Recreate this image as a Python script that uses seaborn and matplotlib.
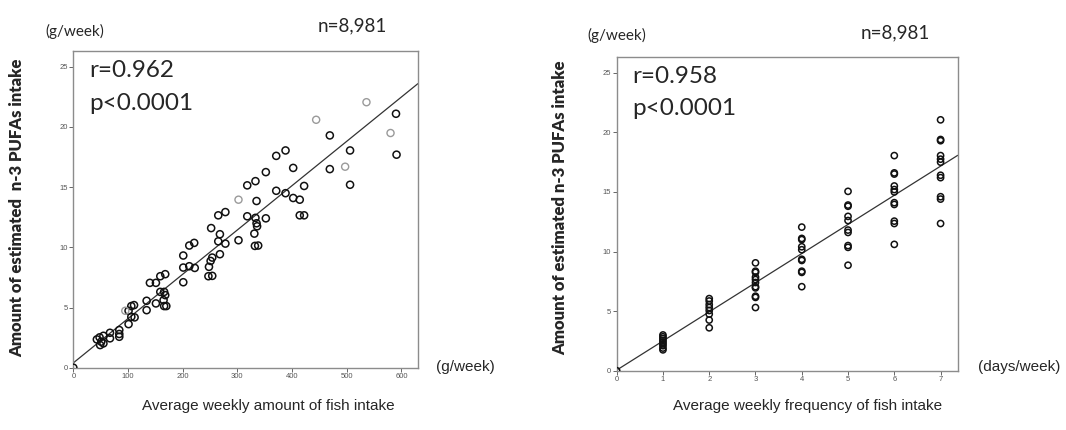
import matplotlib
matplotlib.use("Agg")
import matplotlib.pyplot as plt
import seaborn as sns
import pandas as pd

# ---------------- data ----------------
# Left panel: weekly amount of fish (g/week) vs n-3 PUFAs (g/week)
amount_x = [590, 469, 591, 506, 388, 371, 402, 469, 506, 352, 333, 318, 371, 388, 402, 414,
            422, 335, 265, 278, 318, 333, 352, 414, 422, 252, 335, 336, 331, 268, 265, 302,
            278, 268, 332, 338, 221, 212, 201, 201, 212, 222, 254, 251, 248, 247, 254, 201,
            140, 151, 159, 168, 159, 166, 168, 165, 166, 170, 134, 151, 134, 111, 106, 101,
            106, 112, 101, 84, 84, 84, 67, 67, 55, 48, 43, 51, 49, 55, 0]
amount_y = [21.1, 19.3, 17.7, 18.05, 18.05, 17.6, 16.6, 16.5, 15.2, 16.25, 15.5, 15.15, 14.7,
            14.5, 14.1, 13.96, 15.1, 13.85, 12.66, 12.93, 12.58, 12.45, 12.41, 12.66, 12.66,
            11.6, 12.0, 11.75, 11.14, 11.09, 10.5, 10.59, 10.31, 9.43, 10.12, 10.15, 10.37,
            10.15, 9.32, 8.32, 8.43, 8.29, 9.15, 8.87, 8.38, 7.6, 7.63, 7.1, 7.05, 7.05, 7.6,
            7.77, 6.3, 6.3, 6.03, 5.61, 5.12, 5.12, 5.56, 5.34, 4.78, 5.2, 5.12, 4.73, 4.23,
            4.18, 3.62, 3.13, 2.8, 2.57, 2.9, 2.44, 2.65, 2.52, 2.35, 2.16, 1.88, 2.02, 0.0]
amount_gray_x = [536, 444, 580, 497, 302, 95]
amount_gray_y = [22.06, 20.6, 19.5, 16.7, 13.96, 4.73]
amount_fit_x = [0, 630]
amount_fit_y = [0.4, 23.6]

# Right panel: weekly frequency of fish intake (days/week) vs n-3 PUFAs (g/week)
freq_x = ([0] + [1] * 9 + [2] * 8 + [3] * 11 + [4] * 10 + [5] * 10 + [6] * 11 + [7] * 11)
freq_y = [0.0,
          3.0, 2.85, 2.7, 2.55, 2.4, 2.25, 2.1, 1.9, 1.75,
          6.05, 5.85, 5.55, 5.3, 5.05, 4.75, 4.25, 3.6,
          9.05, 8.35, 8.25, 7.85, 7.65, 7.4, 7.05, 6.95, 6.25, 6.15, 5.3,
          12.05, 11.1, 11.0, 10.4, 10.15, 9.35, 9.25, 8.35, 8.25, 7.05,
          15.05, 13.9, 13.8, 12.95, 12.6, 11.8, 11.6, 10.5, 10.35, 8.85,
          18.05, 16.6, 16.5, 15.5, 15.2, 15.0, 14.1, 13.95, 12.55, 12.35, 10.6,
          21.05, 19.4, 19.3, 18.05, 17.75, 17.5, 16.4, 16.2, 14.6, 14.4, 12.35]
freq_fit_x = [0, 7.37]
freq_fit_y = [0.05, 18.07]

x_ticks_amount = [0, 100, 200, 300, 400, 500, 600]
x_ticks_freq = [0, 1, 2, 3, 4, 5, 6, 7]
y_ticks = [0, 5, 10, 15, 20, 25]

# ---------------- figure ----------------
sns.set_style("white")
plt.rcParams['font.family'] = ['Lato', 'DejaVu Sans']

fig = plt.figure(figsize=(10.66, 4.30), dpi=100)
axL = fig.add_axes([0.0688, 0.1449, 0.3232, 0.7361])
axR = fig.add_axes([0.5785, 0.1379, 0.3199, 0.7289])

NARROW = ['Liberation Sans Narrow', 'Liberation Sans', 'DejaVu Sans']

def style_axes(ax, xlim, xticks):
    ax.set_xlim(*xlim)
    ax.set_ylim(0, 26.3)
    ax.set_xticks(xticks)
    ax.set_yticks(y_ticks)
    ax.set_xticklabels([str(t) for t in xticks], family=NARROW, fontsize=5.5, color='#555555')
    ax.set_yticklabels([str(t) for t in y_ticks], family=NARROW, fontsize=5.5, color='#555555')
    ax.tick_params(axis='both', direction='out', length=3, width=0.7, color='#666666', pad=1,
                   bottom=True, left=True)
    for sp in ax.spines.values():
        sp.set_visible(True)
        sp.set_color('#8c8c8c')
        sp.set_linewidth(1.0)
    ax.set_xlabel('')
    ax.set_ylabel('')

# Left panel
dfL = pd.DataFrame({'x': amount_x, 'y': amount_y})
dfLg = pd.DataFrame({'x': amount_gray_x, 'y': amount_gray_y})
sns.lineplot(x=amount_fit_x, y=amount_fit_y, ax=axL, color='#333333', linewidth=0.9)
sns.scatterplot(data=dfL, x='x', y='y', ax=axL, marker='o', s=26, facecolors='none',
                edgecolor='#111111', linewidth=1.1, zorder=3)
sns.scatterplot(data=dfLg, x='x', y='y', ax=axL, marker='o', s=26, facecolors='none',
                edgecolor='#9a9a9a', linewidth=1.0, zorder=3)
style_axes(axL, (0, 630), x_ticks_amount)

# Right panel
dfR = pd.DataFrame({'x': freq_x, 'y': freq_y})
sns.lineplot(x=freq_fit_x, y=freq_fit_y, ax=axR, color='#333333', linewidth=0.9)
sns.scatterplot(data=dfR, x='x', y='y', ax=axR, marker='o', s=20, facecolors='none',
                edgecolor='#111111', linewidth=1.1, zorder=3)
style_axes(axR, (0, 7.37), x_ticks_freq)

# annotations inside axes
for ax, r in ((axL, 'r=0.962'), (axR, 'r=0.958')):
    ax.text(0.045, 0.94, r, transform=ax.transAxes, fontsize=17.5, va='center', ha='left')
    ax.text(0.045, 0.835, 'p<0.0001', transform=ax.transAxes, fontsize=17.5, va='center', ha='left')

# texts around axes
fig.text(75 / 1066, 1 - 31 / 430, '(g/week)', fontsize=11, ha='center', va='center')
fig.text(352 / 1066, 1 - 26 / 430, 'n=8,981', fontsize=13.5, ha='center', va='center')
fig.text(617 / 1066, 1 - 35 / 430, '(g/week)', fontsize=11, ha='center', va='center')
fig.text(895 / 1066, 1 - 33 / 430, 'n=8,981', fontsize=13.5, ha='center', va='center')

fig.text(17 / 1066, 1 - 208 / 430, 'Amount of estimated  n-3 PUFAs intake', rotation=90,
         fontsize=12, fontweight='heavy', ha='center', va='center')
fig.text(560 / 1066, 1 - 208 / 430, 'Amount of estimated n-3 PUFAs intake', rotation=90,
         fontsize=12, fontweight='heavy', ha='center', va='center')

fig.text(465 / 1066, 1 - 367 / 430, '(g/week)', fontsize=11, ha='center', va='center',
         family=NARROW)
fig.text(1019 / 1066, 1 - 367 / 430, '(days/week)', fontsize=11, ha='center', va='center',
         family=NARROW)

fig.text(268 / 1066, 1 - 406 / 430, 'Average weekly amount of fish intake', fontsize=11,
         ha='center', va='center', family=NARROW)
fig.text(808 / 1066, 1 - 406 / 430, 'Average weekly frequency of fish intake', fontsize=11,
         ha='center', va='center', family=NARROW)

fig.savefig('out.png', dpi=100)
